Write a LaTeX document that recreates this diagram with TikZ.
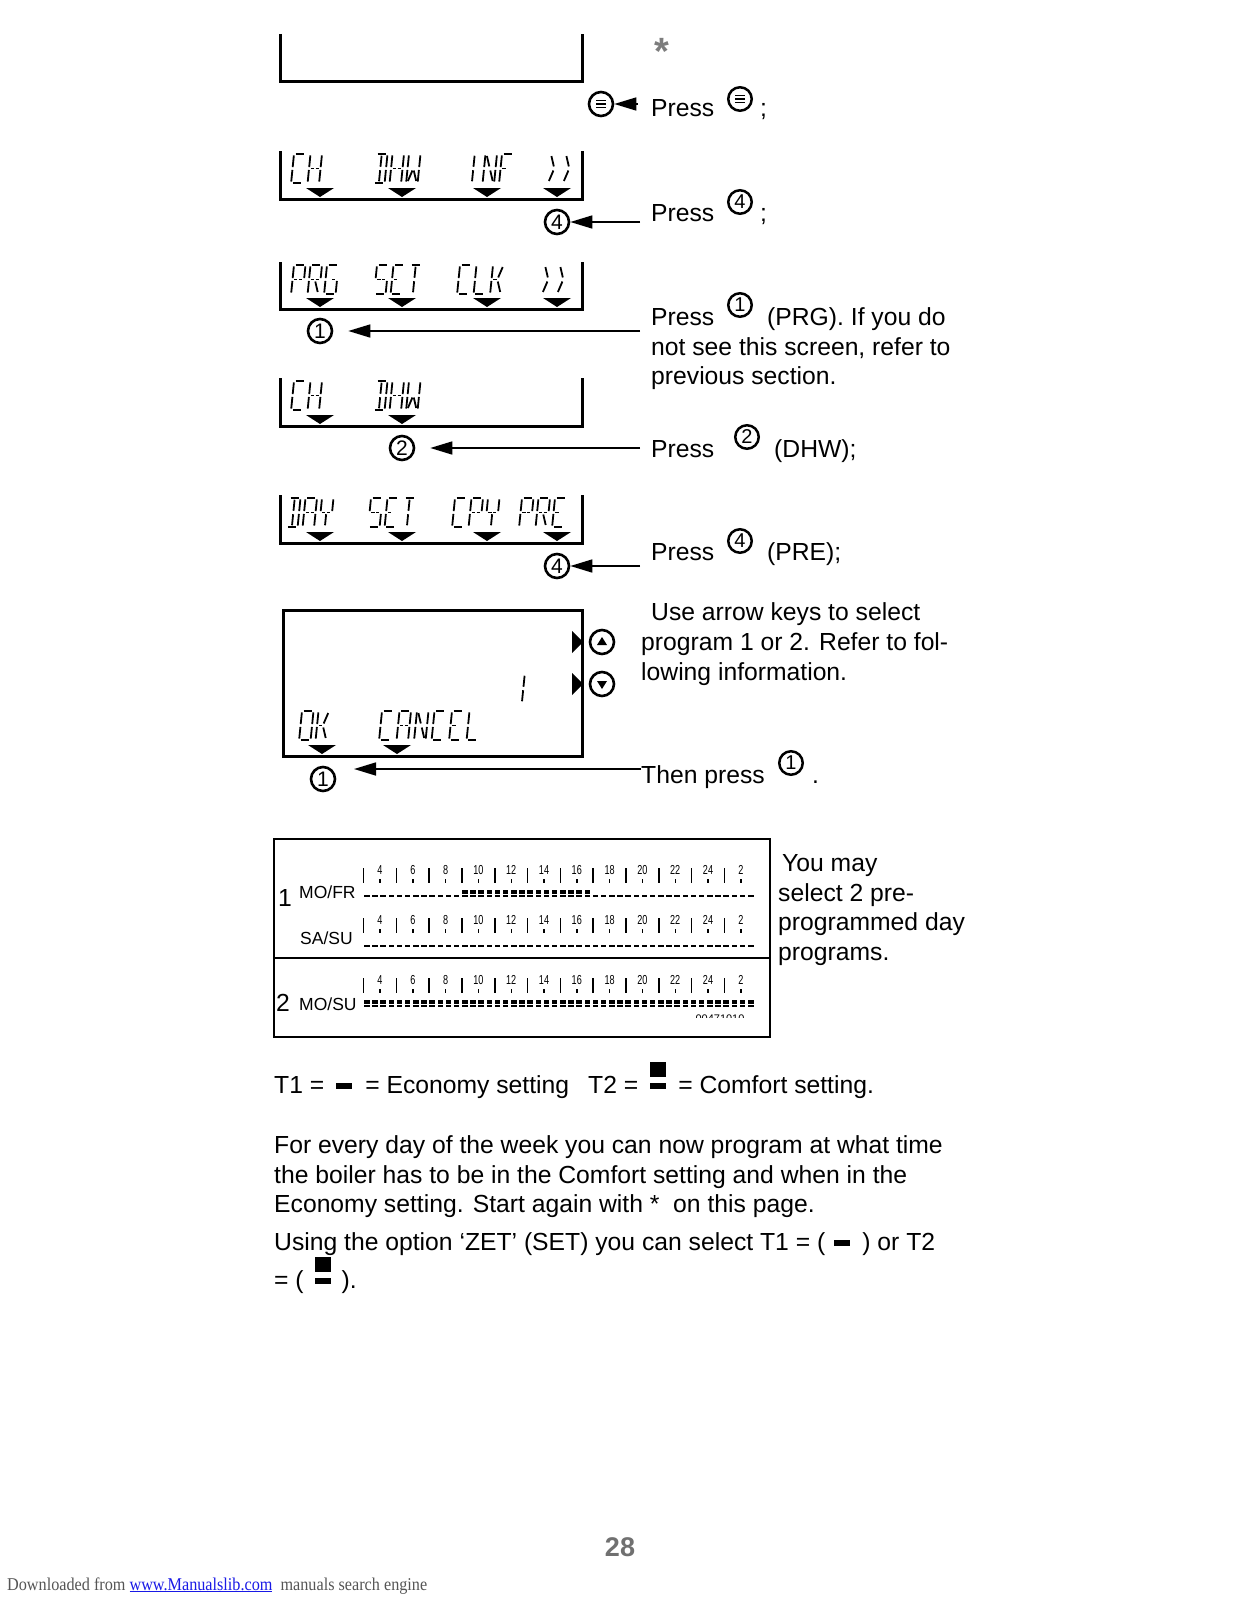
\documentclass[tikz,border=0pt]{standalone}
\usepackage{fontspec}
\setmainfont{Liberation Sans}
\newfontfamily\narrowfont[FakeStretch=0.7]{Liberation Sans}
\newfontfamily\footfont[FakeStretch=0.9]{Liberation Serif}
\usetikzlibrary{arrows.meta,positioning,calc}

\definecolor{pagegray}{RGB}{112,112,112}
\definecolor{stargray}{RGB}{125,125,125}
\definecolor{footgray}{RGB}{85,85,85}
\definecolor{linkblue}{RGB}{25,25,230}

% lcd segments, cell 1 wide and 2 high, y downwards
\newcommand\lcda{\draw (0.15,0) -- (0.85,0);}
\newcommand\lcdb{\draw (1,0.1) -- (1,0.9);}
\newcommand\lcdc{\draw (1,1.1) -- (1,1.9);}
\newcommand\lcdd{\draw (0.15,2) -- (0.85,2);}
\newcommand\lcde{\draw (0,1.1) -- (0,1.9);}
\newcommand\lcdf{\draw (0,0.1) -- (0,0.9);}
\newcommand\lcdg{\draw (0.15,1) -- (0.43,1);}
\newcommand\lcdh{\draw (0.57,1) -- (0.85,1);}
\newcommand\lcdi{\draw (0.5,0.12) -- (0.5,0.88);}
\newcommand\lcdl{\draw (0.5,1.12) -- (0.5,1.88);}
\newcommand\lcdp{\draw (0.14,0.14) -- (0.44,0.86);}
\newcommand\lcdq{\draw (0.86,0.14) -- (0.56,0.86);}
\newcommand\lcdr{\draw (0.44,1.14) -- (0.14,1.86);}
\newcommand\lcds{\draw (0.56,1.14) -- (0.86,1.86);}

% lcd characters
\newcommand\lcdcharC{\lcda\lcdf\lcde\lcdd}
\newcommand\lcdcharH{\lcdf\lcde\lcdb\lcdc\lcdg\lcdh}
\newcommand\lcdcharD{\lcda\lcdb\lcdc\lcdd\lcdi\lcdl}
\newcommand\lcdcharW{\lcdf\lcde\lcdb\lcdc\lcdr\lcds}
\newcommand\lcdcharI{\lcdi\lcdl}
\newcommand\lcdcharN{\lcdf\lcde\lcdb\lcdc\lcdp\lcds}
\newcommand\lcdcharF{\lcda\lcdf\lcde\lcdg}
\newcommand\lcdchargt{\lcdp\lcdr}
\newcommand\lcdcharP{\lcda\lcdf\lcde\lcdb\lcdg\lcdh}
\newcommand\lcdcharR{\lcda\lcdf\lcde\lcdb\lcdg\lcdh\lcds}
\newcommand\lcdcharG{\lcda\lcdf\lcde\lcdd\lcdc\lcdh}
\newcommand\lcdcharS{\lcda\lcdf\lcdg\lcdh\lcdc\lcdd}
\newcommand\lcdcharE{\lcda\lcdf\lcde\lcdd\lcdg}
\newcommand\lcdcharT{\lcda\lcdi\lcdl}
\newcommand\lcdcharL{\lcdf\lcde\lcdd}
\newcommand\lcdcharK{\lcdf\lcde\lcdg\lcdq\lcds}
\newcommand\lcdcharA{\lcda\lcdf\lcde\lcdb\lcdc\lcdg\lcdh}
\newcommand\lcdcharY{\lcdf\lcdb\lcdg\lcdh\lcdl}
\newcommand\lcdcharO{\lcda\lcdb\lcdc\lcdd\lcde\lcdf}
\newcommand\lcdcharone{\lcdi\lcdl}

\tikzset{
  lcdch/.pic={\begin{scope}[x=11.5pt,y=-14.5pt,xslant=0.1,line width=1.8pt]
      \csname lcdchar#1\endcsname\end{scope}},
  softkey/.pic={\fill (-14,-9) -- (14,-9) -- (0,0) -- cycle;}
}
\newcommand\lcdword[4][16.5]{\foreach \lc [count=\n from 0] in {#4}
  {\pic at ({#2+#1*\n},#3) {lcdch=\lc};}}

% program cells and hour scale of the day table
\newcommand\ecocell[2]{\fill (#1,#2-1.2) rectangle ++(5.5,2.4);}
\newcommand\comfcell[2]{\fill (#1,#2-1.2) rectangle ++(5.5,2.4);
  \fill (#1,#2-5.8) rectangle ++(5.5,3.4);}
\newcommand\hourrow[1]{\foreach \h [count=\n from 0] in {4,6,8,10,12,14,16,18,20,22,24,2} {
    \draw[line width=1.6pt] ({363.5+32.8*\n},#1-28) -- ++(0,15);
    \draw[line width=1.4pt] ({380+32.8*\n},#1-17) -- ++(0,4);
    \node[hourlbl] (hr#1n\n) at ({380+32.8*\n},#1-22) {\h};}}

\newcommand\tone{\rule[4pt]{16pt}{6pt}}
\newcommand\ttwo{\smash{\rlap{\rule[4pt]{16pt}{6pt}}\rule[16pt]{16pt}{15pt}}}

\begin{document}
\begin{tikzpicture}[x=1pt,y=-1pt,
    btn/.style={circle,draw,line width=2.6pt,minimum size=24pt,inner sep=0pt,
      font=\fontsize{21}{21}\selectfont},
    ibtn/.style={btn,line width=2.5pt,minimum size=23.5pt,font=\fontsize{20}{20}\selectfont},
    menubtn/.style={path picture={
        \foreach \d in {-3.4,0,3.4}
          \draw[line width=1.6pt] ($(path picture bounding box.center)+(-5,\d)$) -- ++(10,0);}},
    upbtn/.style={btn,path picture={
        \fill ($(path picture bounding box.center)+(-5,3)$) -- ++(10,0) -- ++(-5,-8) -- cycle;}},
    downbtn/.style={btn,path picture={
        \fill ($(path picture bounding box.center)+(-5,-3)$) -- ++(10,0) -- ++(-5,8) -- cycle;}},
    lcdframe/.style={line width=3pt},
    keyarrow/.style={-{Triangle[length=22pt,width=13pt]},line width=1.6pt},
    txt/.style={anchor=base west,inner sep=0pt,font=\fontsize{24.7}{29.5}\selectfont},
    daytxt/.style={anchor=base west,inner sep=0pt,font=\fontsize{17.5}{20}\selectfont},
    hourlbl/.style={anchor=base,inner sep=0pt,font=\narrowfont\fontsize{13}{13}\selectfont}
]

\fill[white] (0,0) rectangle (1237,1600);
\useasboundingbox (0,0) rectangle (1237,1600);

% =========================================================
% Start screen
% =========================================================

\draw[lcdframe] (280,34) |- (582,82) -- (582,34);
\node[anchor=base,inner sep=0pt,font=\bfseries\fontsize{38}{38}\selectfont,text=stargray] (star) at (662,65) {*};

\node[btn,menubtn] (menu1) at (601,104) {};
\coordinate (a0) at (638,104);
\draw[keyarrow] (a0) -- (menu1);

\node[txt] (t0) at (651,117) {Press};
\node[ibtn,menubtn] (menu2) at (740,99) {};
\node[txt] (t0b) at (760,117) {;};

% =========================================================
% CH DHW INF screen
% =========================================================

\draw[lcdframe] (280,151) |- (582,199) -- (582,151);
\lcdword{294}{154}{C,H}
\lcdword{376}{154}{D,H,W}
\lcdword{469}{154}{I,N,F}
\lcdword[15]{550}{154}{gt,gt}
\foreach \x in {320,402,487,557} \pic at (\x,197) {softkey};

\node[btn] (b4a) at (557,222) {4};
\coordinate (a1) at (640,222);
\draw[keyarrow] (a1) -- (b4a);

\node[txt] (t1) at (651,221) {Press};
\node[ibtn] (b4t) at (740,202) {4};
\node[txt] (t1b) at (760,221) {;};

% =========================================================
% PRG SET CLK screen
% =========================================================

\draw[lcdframe] (280,262) |- (582,309) -- (582,262);
\lcdword{294}{265}{P,R,G}
\lcdword{377}{265}{S,E,T}
\lcdword{460}{265}{C,L,K}
\lcdword[15]{544}{265}{gt,gt}
\foreach \x in {320,402,487,557} \pic at (\x,307) {softkey};

\node[btn] (b1a) at (320,331) {1};
\coordinate (a2) at (640,331);
\draw[keyarrow,shorten >=15pt] (a2) -- (b1a);

\node[txt] (t2) at (651,325) {Press};
\node[ibtn] (b1t) at (740,305) {1};
\node[txt] (t2b) at (767,325) {(PRG). If you do};
\node[txt] (t2c) at (651,355) {not see this screen, refer to};
\node[txt] (t2d) at (651,384) {previous section.};

% =========================================================
% CH DHW screen
% =========================================================

\draw[lcdframe] (280,378) |- (582,426) -- (582,378);
\lcdword{294}{381}{C,H}
\lcdword{376}{381}{D,H,W}
\foreach \x in {320,402} \pic at (\x,424) {softkey};

\node[btn] (b2) at (402,448) {2};
\coordinate (a3) at (640,448);
\draw[keyarrow,shorten >=15pt] (a3) -- (b2);

\node[txt] (t3) at (651,457) {Press};
\node[ibtn] (b2t) at (747,437) {2};
\node[txt] (t3b) at (774,457) {(DHW);};

% =========================================================
% DAY SET CPY PRE screen
% =========================================================

\draw[lcdframe] (280,495) |- (582,543) -- (582,495);
\lcdword{289}{498}{D,A,Y}
\lcdword{371}{498}{S,E,T}
\lcdword{455}{498}{C,P,Y}
\lcdword{522}{498}{P,R,E}
\foreach \x in {320,402,487,557} \pic at (\x,541) {softkey};

\node[btn] (b4b) at (557,566) {4};
\coordinate (a4) at (640,566);
\draw[keyarrow] (a4) -- (b4b);

\node[txt] (t4) at (651,560) {Press};
\node[ibtn] (b4u) at (740,541) {4};
\node[txt] (t4b) at (767,560) {(PRE);};

% =========================================================
% Program choice screen
% =========================================================

\draw[lcdframe] (283,610) rectangle (582,756);
\lcdword{519}{674}{one}
\lcdword{302}{711}{O,K}
\lcdword[17.5]{382}{711}{C,A,N,C,E,L}
\foreach \x in {322,397} \pic at (\x,754) {softkey};

\fill (572,631) -- (583,642) -- (572,653) -- cycle;
\fill (572,673) -- (583,684) -- (572,695) -- cycle;
\node[upbtn] (up) at (602,642) {};
\node[downbtn] (down) at (602,684) {};

\node[txt] (t5) at (651,620) {Use arrow keys to select};
\node[txt] (t5b) at (641,650) {program 1 or 2. Refer to fol-};
\node[txt] (t5c) at (641,680) {lowing information.};

\node[btn] (b1b) at (323,779) {1};
\coordinate (a5) at (641,769);
\draw[keyarrow,shorten >=31pt] (a5) -- (b1b |- a5);

\node[txt] (t6) at (641,783) {Then press};
\node[ibtn] (b1u) at (791,763) {1};
\node[txt] (t6b) at (812,783) {.};

% =========================================================
% Day programs table
% =========================================================

\draw[line width=1.8pt] (274,839) rectangle (770,1037);
\draw[line width=1.8pt] (274,958) -- (770,958);

\node[txt] (p1) at (278,906) {1};
\node[daytxt] (mofr) at (299,898) {MO/FR};
\node[daytxt] (sasu) at (300,944) {SA/SU};
\node[txt] (p2) at (276,1011) {2};
\node[daytxt] (mosu) at (299,1010) {MO/SU};

\hourrow{896}
\foreach \k in {0,...,11} {\ecocell{364+8.17*\k}{896}}
\foreach \k in {12,...,27} {\comfcell{364+8.17*\k}{896}}
\foreach \k in {28,...,47} {\ecocell{364+8.17*\k}{896}}

\hourrow{946}
\foreach \k in {0,...,47} {\ecocell{364+8.17*\k}{946}}

\hourrow{1006}
\foreach \k in {0,...,47} {\comfcell{364+8.17*\k}{1006}}

\begin{scope}
  \clip (680,1012) rectangle (760,1017.5);
  \node[anchor=north,inner sep=0pt,font=\fontsize{11}{11}\selectfont] (code) at (720,1015) {00471010};
\end{scope}

\node[txt] (may1) at (782,871) {You may};
\node[txt] (may2) at (778,901) {select 2 pre-};
\node[txt] (may3) at (778,930) {programmed day};
\node[txt] (may4) at (778,960) {programs.};

% =========================================================
% Notes
% =========================================================

\node[txt] (legend) at (274,1093) {T1 =\hspace{12pt}\tone\hspace{13pt}= Economy setting\hspace{19pt}T2 =\hspace{12pt}\ttwo\hspace{12pt}= Comfort setting.};

\node[txt] (n1) at (274,1153) {For every day of the week you can now program at what time};
\node[txt] (n2) at (274,1183) {the boiler has to be in the Comfort setting and when in the};
\node[txt] (n3) at (274,1212) {Economy setting. Start again with *\ \ on this page.};
\node[txt] (n4) at (274,1250) {Using the option `ZET' (SET) you can select T1 = (\hspace{9pt}\tone\hspace{12pt}) or T2};
\node[txt] (n5) at (274,1288) {= (\hspace{11pt}\ttwo\hspace{11pt}).};

\node[anchor=base,inner sep=0pt,font=\bfseries\fontsize{27}{27}\selectfont,text=pagegray] (page) at (620,1556) {28};

\node[anchor=base west,inner sep=0pt,font=\footfont\fontsize{18}{18}\selectfont,text=footgray] (dl) at (7,1590)
  {Downloaded from \textcolor{linkblue}{\underline{www.Manualslib.com}}\ \ manuals search engine};

\end{tikzpicture}
\end{document}
